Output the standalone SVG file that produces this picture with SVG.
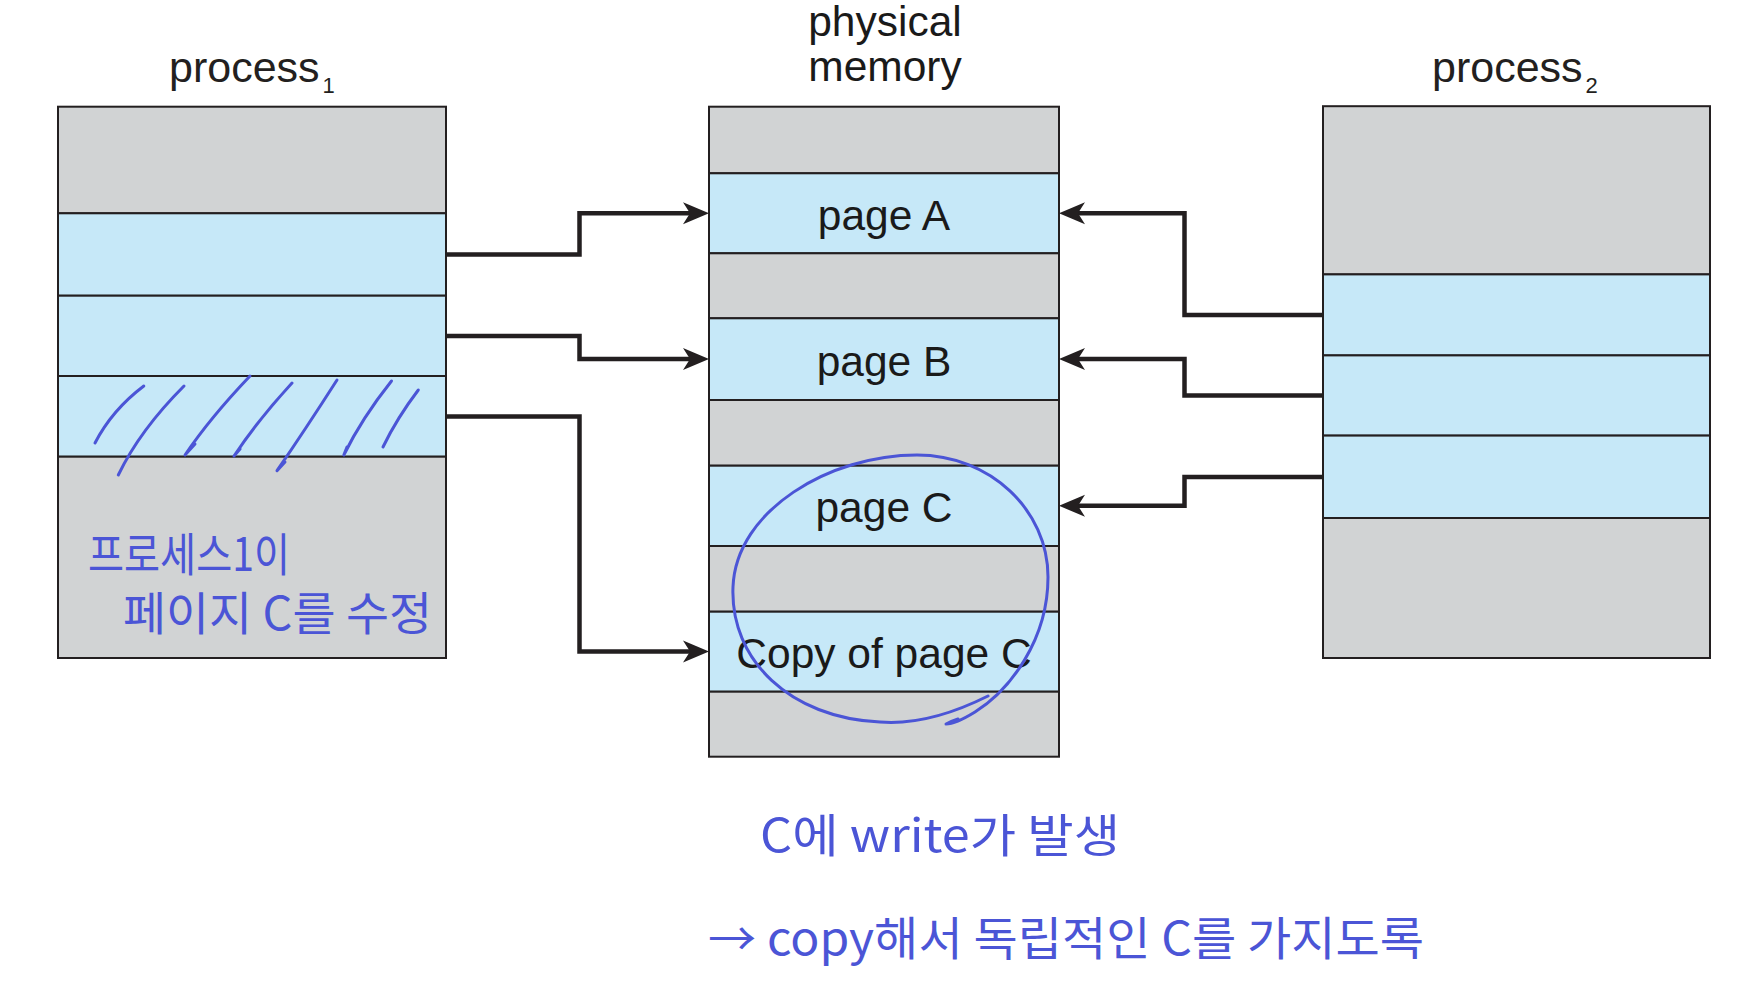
<svg xmlns="http://www.w3.org/2000/svg" width="1758" height="1000" viewBox="0 0 1758 1000">
<style>
.gray{fill:#d1d3d4;stroke:#231f20;stroke-width:2}
.blue{fill:#c6e8f8;stroke:#231f20;stroke-width:2}
.lbl{font-family:"Liberation Sans",Arial,sans-serif;font-size:43px;fill:#231f20}
.pg{font-family:"Liberation Sans",Arial,sans-serif;font-size:42.5px;fill:#1a1a1a;text-anchor:middle}
.sub{font-size:22px}
.conn{fill:none;stroke:#231f20;stroke-width:4.5;stroke-linejoin:miter}
.ink{fill:none;stroke:#4b55d6;stroke-width:3;stroke-linecap:round;stroke-linejoin:round}
.hand{font-family:"Noto Sans CJK KR","Noto Sans",sans-serif;font-size:46px;fill:#4b55d6}
</style>
<defs>
<marker id="arr" viewBox="-14 -13 30 26" markerWidth="30" markerHeight="26" refX="0" refY="0" orient="auto" markerUnits="userSpaceOnUse">
<path d="M14,0 L-12,-11 L-5,0 L-12,11 Z" fill="#231f20"/>
</marker>
</defs>
<rect width="1758" height="1000" fill="#ffffff"/>

<g id="process1">
<text class="lbl" x="169" y="82">process<tspan class="sub" dx="3" dy="11">1</tspan></text>
<rect class="gray" x="58" y="106.7" width="388" height="106.6"/>
<rect class="blue" x="58" y="213.3" width="388" height="82.4"/>
<rect class="blue" x="58" y="295.7" width="388" height="80.3"/>
<rect class="blue" x="58" y="376" width="388" height="80.7"/>
<rect class="gray" x="58" y="456.7" width="388" height="201.3"/>
</g>

<g id="physical-memory">
<text class="pg" x="885" y="36">physical</text>
<text class="pg" x="885" y="81">memory</text>
<rect class="gray" x="709" y="106.7" width="350" height="66.6"/>
<rect class="blue" x="709" y="173.3" width="350" height="80"/>
<rect class="gray" x="709" y="253.3" width="350" height="65"/>
<rect class="blue" x="709" y="318.3" width="350" height="81.7"/>
<rect class="gray" x="709" y="400" width="350" height="65.7"/>
<rect class="blue" x="709" y="465.7" width="350" height="80.3"/>
<rect class="gray" x="709" y="546" width="350" height="65.7"/>
<rect class="blue" x="709" y="611.7" width="350" height="80"/>
<rect class="gray" x="709" y="691.7" width="350" height="65"/>
<text class="pg" x="884" y="230">page A</text>
<text class="pg" x="884" y="375.5">page B</text>
<text class="pg" x="884" y="522">page C</text>
<text class="pg" x="884" y="668">Copy of page C</text>
</g>

<g id="process2">
<text class="lbl" x="1432" y="82">process<tspan class="sub" dx="3" dy="11">2</tspan></text>
<rect class="gray" x="1323" y="106.2" width="387" height="168.2"/>
<rect class="blue" x="1323" y="274.4" width="387" height="81"/>
<rect class="blue" x="1323" y="355.4" width="387" height="80.2"/>
<rect class="blue" x="1323" y="435.6" width="387" height="82.4"/>
<rect class="gray" x="1323" y="518" width="387" height="140"/>
</g>

<g id="connectors">
<path class="conn" marker-end="url(#arr)" d="M447,254.5 H579.5 V213.3 H695"/>
<path class="conn" marker-end="url(#arr)" d="M447,336 H579.5 V359 H695"/>
<path class="conn" marker-end="url(#arr)" d="M447,416.5 H579.5 V651.5 H695"/>
<path class="conn" marker-end="url(#arr)" d="M1322,315 H1184.5 V213.3 H1073"/>
<path class="conn" marker-end="url(#arr)" d="M1322,395.5 H1184.5 V359 H1073"/>
<path class="conn" marker-end="url(#arr)" d="M1322,477 H1184.5 V505.8 H1073"/>
</g>

<g id="annotations">
<path class="ink" d="M143.8,386 Q112,410 95,443"/>
<path class="ink" d="M184,386 Q140,430 118.3,475"/>
<path class="ink" d="M250,376 Q210,418 185,455 L195,444"/>
<path class="ink" d="M292,383 Q258,420 234,456 L240,449"/>
<path class="ink" d="M337,380 Q305,430 277,470.7 L285,462"/>
<path class="ink" d="M391.5,381 Q362,418 343.8,455 L347,447"/>
<path class="ink" d="M418.3,390 Q397,418 383,447"/>
<path class="ink" d="M988,696 C940,720 905,724 880,722 C790,718 730,660 733,587 C736,510 830,455 917,455 C990,455 1048,510 1048,577 C1048,640 1010,690 975,712 C962,720 952,724 946,724 C950,722 955,720 958,719"/>
<text class="hand" x="88" y="571" textLength="202" lengthAdjust="spacingAndGlyphs">프로세스1이</text>
<text class="hand" x="123" y="630" textLength="309" lengthAdjust="spacingAndGlyphs">페이지 C를 수정</text>
<text class="hand" x="760" y="852" textLength="360" lengthAdjust="spacingAndGlyphs">C에 write가 발생</text>
<text class="hand" x="708" y="955" textLength="716" lengthAdjust="spacingAndGlyphs">→ copy해서 독립적인 C를 가지도록</text>
</g>
</svg>
